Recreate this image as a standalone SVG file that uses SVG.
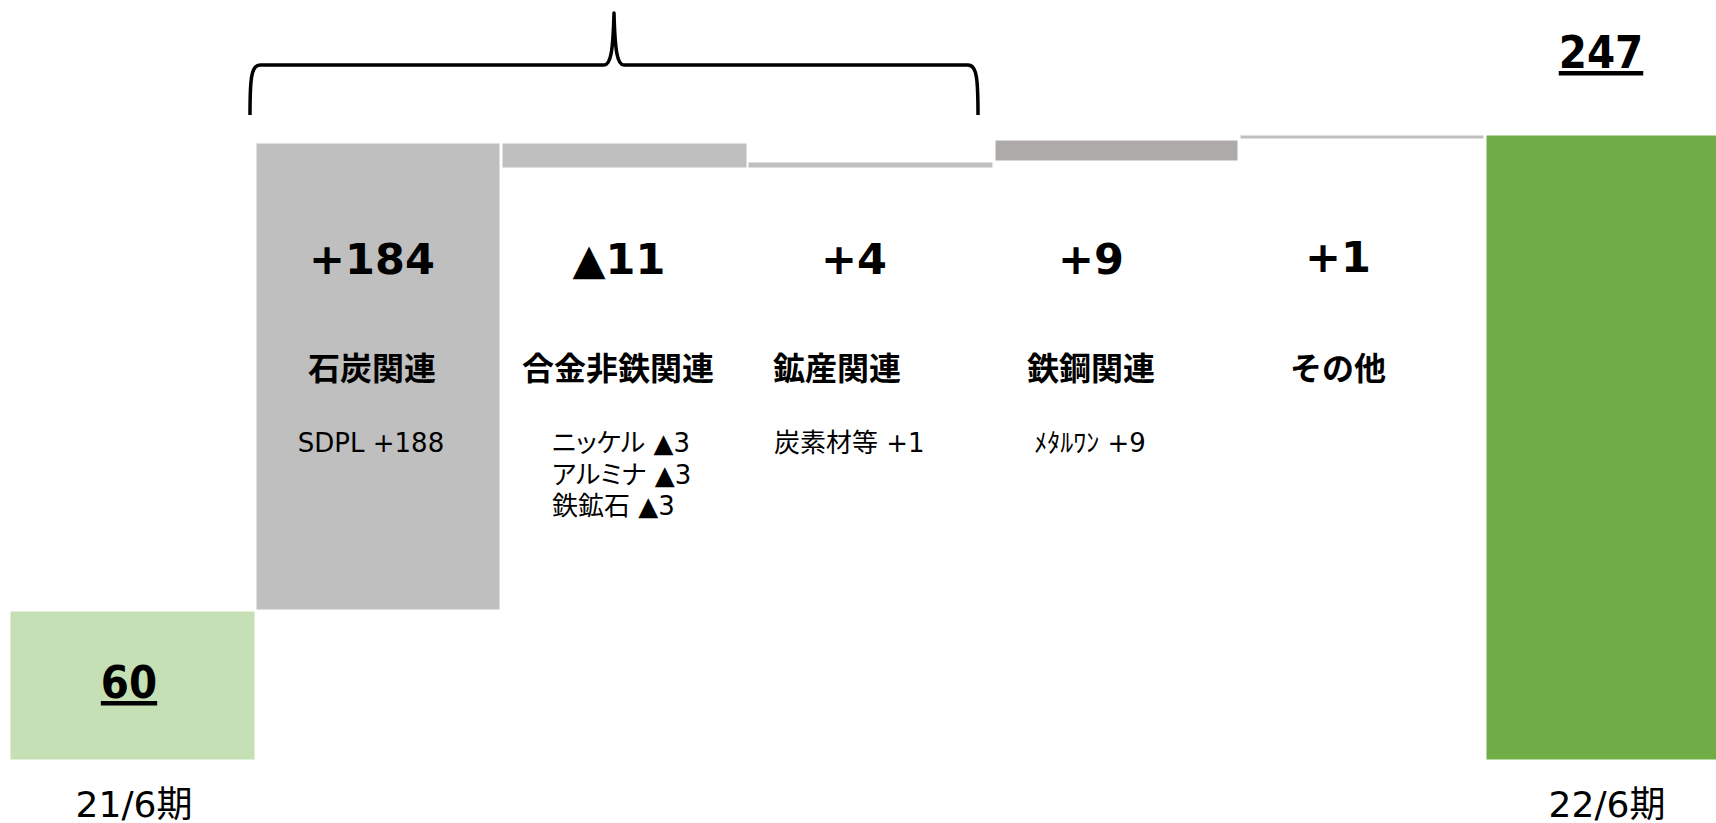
<svg xmlns="http://www.w3.org/2000/svg" width="1716" height="823" viewBox="0 0 1716 823">
<style>
.bar{stroke:#ffffff;stroke-width:1}
.g1{fill:#BFBFBF}
.g2{fill:#AEAAAA}
.start{fill:#C5E0B4}
.end{fill:#70AD47}
.val{font-family:"DejaVu Sans","Noto Sans CJK JP",sans-serif;font-weight:bold;font-size:43px;fill:#000;text-anchor:middle}
.tot{font-family:"DejaVu Sans Condensed","DejaVu Sans",sans-serif;font-weight:bold;font-size:45px;fill:#000;text-anchor:middle;text-decoration:underline}
.cat{font-family:"Noto Sans CJK JP",sans-serif;font-weight:bold;font-size:32px;fill:#000;text-anchor:middle}
.sub{font-family:"DejaVu Sans","Noto Sans CJK JP",sans-serif;font-size:26px;fill:#000;font-feature-settings:"palt"}
.subc{text-anchor:middle}
.axis{font-family:"DejaVu Sans","Noto Sans CJK JP",sans-serif;font-size:36px;fill:#000;text-anchor:middle}
.brace{fill:none;stroke:#000;stroke-width:3.5;stroke-linejoin:round}
</style>

<g id="start-2106">
  <rect class="bar start" x="10" y="611" width="245" height="149"/>
  <text class="tot" x="129" y="698">60</text>
  <text class="axis" x="134" y="817">21/6期</text>
</g>

<g id="coal">
  <rect class="bar g1" x="256" y="143" width="244" height="467"/>
  <text class="val" x="372" y="274">+184</text>
  <text class="cat" x="372" y="380">石炭関連</text>
  <text class="sub subc" x="371" y="452">SDPL +188</text>
</g>

<g id="alloy">
  <rect class="bar g1" x="502" y="143" width="245" height="25"/>
  <text class="val" x="619" y="274">▲11</text>
  <text class="cat" x="618" y="380">合金非鉄関連</text>
  <text class="sub" x="552" y="452">ニッケル ▲3</text>
  <text class="sub" x="552" y="484">アルミナ ▲3</text>
  <text class="sub" x="552" y="515">鉄鉱石 ▲3</text>
</g>

<g id="mining">
  <rect class="bar g1" x="748" y="162" width="245" height="6"/>
  <text class="val" x="854" y="274">+4</text>
  <text class="cat" x="837" y="380">鉱産関連</text>
  <text class="sub" x="774" y="452">炭素材等 +1</text>
</g>

<g id="steel">
  <rect class="bar g2" x="995" y="140" width="243" height="21"/>
  <text class="val" x="1091" y="274">+9</text>
  <text class="cat" x="1091" y="380">鉄鋼関連</text>
  <text class="sub subc" x="1090" y="452">ﾒﾀﾙﾜﾝ +9</text>
</g>

<g id="other">
  <rect class="bar g1" x="1240" y="135" width="244" height="4"/>
  <text class="val" x="1338" y="272">+1</text>
  <text class="cat" x="1338" y="380">その他</text>
</g>

<g id="end-2206">
  <rect class="bar end" x="1486" y="135" width="231" height="625"/>
  <text class="tot" x="1601" y="68">247</text>
  <text class="axis" x="1607" y="817">22/6期</text>
</g>

<g id="connectors">
  <path class="brace" d="M250,115 C250,80 251,65 260,65 L604,65 C611,65 613,50 614,13 C615,50 617,65 624,65 L968,65 C977,65 978,80 978,115"/>
</g>
</svg>
